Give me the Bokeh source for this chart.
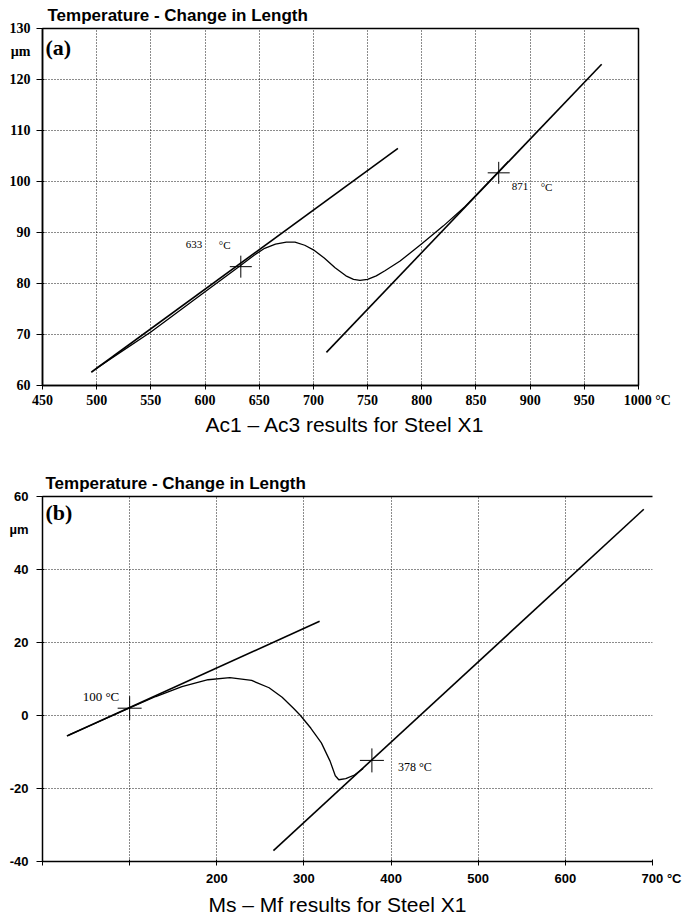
from bokeh.plotting import figure
from bokeh.models import Range1d, FixedTicker, Label, LinearAxis, Title
from bokeh.embed import file_html
from bokeh.resources import INLINE

# ---------------- Panel (a): Ac1 - Ac3 ----------------
a_xticks = [450, 500, 550, 600, 650, 700, 750, 800, 850, 900, 950, 1000]
a_yticks = [60, 70, 80, 90, 100, 110, 120, 130]
a_tangent1_x = [495, 778]
a_tangent1_y = [62.6, 106.5]
a_tangent2_x = [712, 966]
a_tangent2_y = [66.5, 123.0]
a_curve_x = [500, 550, 600, 630, 645, 655, 665, 675, 683, 692, 700, 710, 720,
             730, 737, 743, 750, 758, 766, 780, 800, 820, 840, 860, 880]
a_curve_y = [63.4, 70.5, 78.4, 83.1, 85.5, 86.9, 87.7, 88.1, 88.1, 87.5, 86.6,
             85.0, 83.1, 81.5, 80.8, 80.6, 80.8, 81.5, 82.5, 84.4, 87.8, 91.3,
             95.1, 99.5, 104.0]
a_points_x = [633, 871]
a_points_y = [83.3, 101.7]
a_point_labels = ["633", "871"]

# ---------------- Panel (b): Ms - Mf ----------------
b_xticks = [0, 100, 200, 300, 400, 500, 600, 700]
b_yticks = [-40, -20, 0, 20, 40, 60]
b_tangent1_x = [28, 318]
b_tangent1_y = [-5.6, 25.8]
b_tangent2_x = [265, 690]
b_tangent2_y = [-37.0, 56.5]
b_curve_x = [30, 60, 100, 130, 160, 190, 215, 240, 260, 275, 288, 296, 308,
             320, 330, 336, 340, 348, 358, 368]
b_curve_y = [-5.4, -2.2, 2.1, 5.2, 7.9, 9.8, 10.4, 9.6, 7.6, 5.0, 2.0, 0.0,
             -3.5, -7.5, -12.5, -16.5, -17.6, -17.3, -16.3, -14.5]
b_points_x = [100, 378]
b_points_y = [2.0, -12.3]
b_point_labels = ["100 \u00b0C", "378 \u00b0C"]

TITLE = "Temperature - Change in Length"
CAPTION_A = "Ac1 \u2013 Ac3 results for Steel X1"
CAPTION_B = "Ms \u2013 Mf results for Steel X1"
UNIT_Y = "\u00b5m"
UNIT_X = "\u00b0C"

SERIF = "Liberation Serif"
SANS = "Liberation Sans"
NB = "\u00a0"


def style_axis(ax, font, size, tick_out, standoff):
    ax.axis_line_color = "black"
    ax.axis_line_width = 1.5
    ax.major_tick_line_color = "black"
    ax.major_tick_in = 2
    ax.major_tick_out = tick_out
    ax.minor_tick_line_color = None
    ax.major_label_text_font = font
    ax.major_label_text_font_size = size
    ax.major_label_text_font_style = "bold"
    ax.major_label_text_color = "black"
    ax.major_label_standoff = standoff


def style_grid(p):
    for g in (p.xgrid, p.ygrid):
        g.grid_line_color = "black"
        g.grid_line_dash = "1 2"
        g.grid_line_width = 1
        g.grid_line_alpha = 0.9


def unit_y_axis(ax, ticks, unit_pos):
    # tick marks drawn as minor ticks so the unit label gets no tick mark
    ax.ticker = FixedTicker(ticks=list(ticks) + [unit_pos], minor_ticks=list(ticks))
    ax.major_tick_line_color = None
    ax.minor_tick_line_color = "black"
    ax.minor_tick_in = 2
    ax.minor_tick_out = 6


def style_title(t, offset):
    t.align = "left"
    t.offset = offset
    t.standoff = 7
    t.text_font = SANS
    t.text_font_size = "17px"
    t.text_font_style = "bold"
    t.text_color = "black"


# ---------- figure (a) ----------
p1 = figure(width=687, height=450, x_range=Range1d(450, 1000), y_range=Range1d(60, 130),
            output_backend="svg", toolbar_location=None,
            min_border_left=42, min_border_right=49, min_border_top=28, min_border_bottom=65)
p1.background_fill_color = "white"
p1.border_fill_color = "white"
p1.outline_line_color = "black"
p1.outline_line_width = 1.5
style_axis(p1.xaxis[0], SERIF, "14px", 4, 3)
style_axis(p1.yaxis[0], SERIF, "14px", 6, 6)
p1.xaxis.ticker = FixedTicker(ticks=a_xticks)
a_unit_pos = 125.5
unit_y_axis(p1.yaxis[0], a_yticks, a_unit_pos)
p1.yaxis.major_label_overrides = {a_unit_pos: UNIT_Y}
last = a_xticks[-1]
p1.xaxis.major_label_overrides = {last: NB * 5 + str(last) + NB + UNIT_X}
p1.xgrid.ticker = FixedTicker(ticks=a_xticks[1:-1])
p1.ygrid.ticker = FixedTicker(ticks=a_yticks[1:-1])
style_grid(p1)

p1.title.text = TITLE
style_title(p1.title, 5)
p1.add_layout(Title(text=CAPTION_A, align="left", offset=163, standoff=0,
                    text_font=SANS, text_font_size="21px",
                    text_font_style="normal", text_color="black"), "below")

p1.line(a_tangent1_x, a_tangent1_y, line_color="black", line_width=1.6)
p1.line(a_tangent2_x, a_tangent2_y, line_color="black", line_width=1.6)
p1.line(a_curve_x, a_curve_y, line_color="black", line_width=1.3)
p1.scatter(a_points_x, a_points_y, marker="cross", size=22, line_color="black", line_width=1)

p1.add_layout(Label(x=a_points_x[0], y=a_points_y[0], x_offset=-55, y_offset=22,
                    text=a_point_labels[0], text_font=SERIF, text_font_size="11px",
                    text_baseline="middle", text_color="black"))
p1.add_layout(Label(x=a_points_x[0], y=a_points_y[0], x_offset=-22, y_offset=22,
                    text=UNIT_X, text_font=SERIF, text_font_size="11px",
                    text_baseline="middle", text_color="black"))
p1.add_layout(Label(x=a_points_x[1], y=a_points_y[1], x_offset=13, y_offset=-14,
                    text=a_point_labels[1], text_font=SERIF, text_font_size="11px",
                    text_baseline="middle", text_color="black"))
p1.add_layout(Label(x=a_points_x[1], y=a_points_y[1], x_offset=42, y_offset=-14,
                    text=UNIT_X, text_font=SERIF, text_font_size="11px",
                    text_baseline="middle", text_color="black"))
p1.add_layout(Label(x=450, y=130, x_offset=3, y_offset=-19, text="(a)",
                    text_font=SERIF, text_font_style="bold", text_font_size="22px",
                    text_baseline="middle", text_color="black"))

# ---------- figure (b) ----------
p2 = figure(width=687, height=467, x_range=Range1d(0, 700), y_range=Range1d(-40, 60),
            output_backend="svg", toolbar_location=None,
            min_border_left=42, min_border_right=35, min_border_top=46, min_border_bottom=55)
p2.background_fill_color = "white"
p2.border_fill_color = "white"
p2.outline_line_color = None
style_axis(p2.xaxis[0], SANS, "13px", 4, 5)
style_axis(p2.yaxis[0], SANS, "13px", 6, 8)
p2.xaxis.ticker = FixedTicker(ticks=b_xticks)
b_unit_pos = 51
unit_y_axis(p2.yaxis[0], b_yticks, b_unit_pos)
lastb = b_xticks[-1]
p2.xaxis.major_label_overrides = {0: "", 100: "", lastb: NB * 5 + str(lastb) + NB + UNIT_X}
p2.yaxis.major_label_overrides = {-40: "-40", -20: "-20", b_unit_pos: UNIT_Y}
p2.xgrid.ticker = FixedTicker(ticks=b_xticks[1:-1])
p2.ygrid.ticker = FixedTicker(ticks=b_yticks[1:-1])
style_grid(p2)

top_axis = LinearAxis(ticker=FixedTicker(ticks=[]), major_label_text_font_size="0px",
                      major_tick_line_color=None, minor_tick_line_color=None,
                      axis_line_color="black", axis_line_width=1.5)
p2.add_layout(top_axis, "above")

p2.title.text = TITLE
style_title(p2.title, 3)
p2.add_layout(Title(text=CAPTION_B, align="left", offset=166, standoff=4,
                    text_font=SANS, text_font_size="21px",
                    text_font_style="normal", text_color="black"), "below")

p2.line(b_tangent1_x, b_tangent1_y, line_color="black", line_width=1.6)
p2.line(b_tangent2_x, b_tangent2_y, line_color="black", line_width=1.6)
p2.line(b_curve_x, b_curve_y, line_color="black", line_width=1.3)
p2.scatter(b_points_x, b_points_y, marker="cross", size=24, line_color="black", line_width=1)

p2.add_layout(Label(x=b_points_x[0], y=b_points_y[0], x_offset=-47, y_offset=12,
                    text=b_point_labels[0], text_font=SERIF, text_font_size="13px",
                    text_baseline="middle", text_color="black"))
p2.add_layout(Label(x=b_points_x[1], y=b_points_y[1], x_offset=26, y_offset=-7,
                    text=b_point_labels[1], text_font=SERIF, text_font_size="12px",
                    text_baseline="middle", text_color="black"))
p2.add_layout(Label(x=0, y=60, x_offset=3, y_offset=-16, text="(b)",
                    text_font=SERIF, text_font_style="bold", text_font_size="22px",
                    text_baseline="middle", text_color="black"))

open("out.html", "w").write(file_html([p1, p2], INLINE))
